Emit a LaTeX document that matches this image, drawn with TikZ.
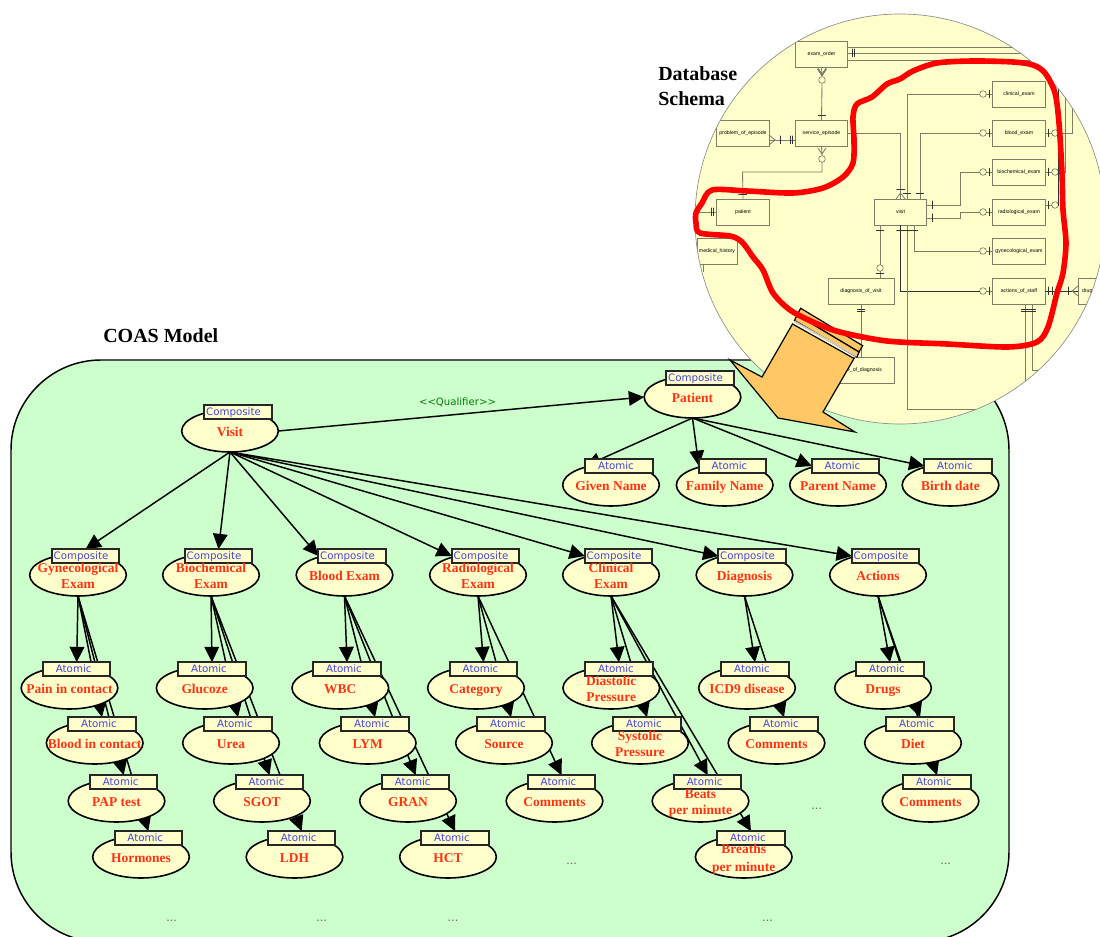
\documentclass[tikz,border=0pt]{standalone}
\usepackage{fontspec}
\setmainfont{Liberation Serif}
\newfontfamily\djv{DejaVu Sans}
\newfontfamily\lib{Liberation Sans}
\usetikzlibrary{shapes.geometric,arrows.meta}
\pgfdeclarelayer{bg}\pgfdeclarelayer{edges}\pgfdeclarelayer{front}
\pgfsetlayers{bg,edges,main,front}
\definecolor{panelgreen}{HTML}{CCFFCC}
\definecolor{lemon}{HTML}{FFFFCC}
\definecolor{arroworange}{HTML}{FFC864}
\definecolor{nametext}{HTML}{FF3311}
\definecolor{typetext}{HTML}{4444DD}
\definecolor{qualgreen}{HTML}{0A7A0A}
\definecolor{schline}{HTML}{7E7E66}
\tikzset{
  elli/.style={ellipse,draw=black,fill=lemon,line width=1.2pt,minimum width=72.5pt,minimum height=31.5pt,inner sep=0pt,outer sep=0pt},
  typebox/.style={rectangle,draw=black!85,fill=lemon,line width=1.4pt,minimum width=50.5pt,minimum height=10.2pt,inner sep=0pt,outer sep=0pt,text=typetext,text height=5.8pt,text depth=0pt,font=\djv\fontsize{7.7}{9}\selectfont},
  nametxt/.style={text=nametext,font=\bfseries\fontsize{10.1}{12}\selectfont,align=center,inner sep=0pt},
  edge/.style={draw=black,line width=1.1pt,-{Triangle[length=11.5pt,width=11pt]}},
  dotsmark/.style={text=black!60,anchor=base,inner sep=0pt,font=\lib\fontsize{9.5}{11}\selectfont},
  title/.style={text=black,font=\bfseries\fontsize{15}{18.4}\selectfont,align=left,inner sep=0pt},
  schbox/.style={rectangle,draw=schline,fill=lemon,line width=0.7pt,inner sep=0pt,outer sep=0pt,minimum height=19.5pt,minimum width=39.3pt,font=\lib\fontsize{3.9}{5}\selectfont},
  sch/.style={draw=schline,line width=0.65pt},
  schdark/.style={draw=black!80,line width=0.65pt},
  ring/.style={circle,draw=schline,fill=lemon,line width=0.5pt,minimum size=5pt,inner sep=0pt,outer sep=0pt},
}
\newcommand{\coasnode}[6]{%
  \node[elli] (#1) at (#2,#3) {};
  \node[typebox] (#1b) at (#4,{#3-19}) {#5};
  \node[nametxt] (#1t) at (#2,{#3+2.5}) {\rule{0pt}{7pt}#6\rule[-2.2pt]{0pt}{2.2pt}};
}
\newcommand{\cmp}{Composite\kern6.75pt\relax}
\newcommand{\atm}{Atomic\kern4.5pt\relax}
\newcommand{\vtick}[2]{\draw[schdark] (#1,{#2-4}) -- (#1,{#2+4});}
\newcommand{\htick}[2]{\draw[schdark] ({#1-4},#2) -- ({#1+4},#2);}
\begin{document}
\begin{tikzpicture}[x=0.75pt,y=-0.75pt]
\useasboundingbox (0,0) rectangle (1100,937);
\clip (0,0) rectangle (1100,937);

\begin{pgfonlayer}{bg}
  \draw[fill=panelgreen,draw=black,line width=1.1pt,rounded corners=67.5pt] (11,360) rectangle (1009,942);
\end{pgfonlayer}

% ---- model nodes
\coasnode{visit}{230}{431}{238}{\cmp}{Visit}
\coasnode{pat}{692.5}{397}{700}{\cmp}{Patient}
\coasnode{pat1}{611}{485}{619}{\atm}{Given Name}
\coasnode{pat2}{724.7}{485}{732.5}{\atm}{Family Name}
\coasnode{pat3}{838}{485}{845.5}{\atm}{Parent Name}
\coasnode{pat4}{950.5}{485}{958}{\atm}{Birth date}

\coasnode{gyn}{78}{575}{85.5}{\cmp}{Gynecological\\Exam}
\coasnode{bio}{211}{575}{218.5}{\cmp}{Biochemical\\Exam}
\coasnode{bld}{344.5}{575}{352}{\cmp}{Blood  Exam}
\coasnode{rad}{478}{575}{485.5}{\cmp}{Radiological\\Exam}
\coasnode{cln}{611}{575}{618.5}{\cmp}{Clinical\\Exam}
\coasnode{dgn}{744.5}{575}{752}{\cmp}{Diagnosis}
\coasnode{act}{878}{575}{885.5}{\cmp}{Actions}

\coasnode{gyn1}{69.5}{688}{76.7}{\atm}{Pain in contact}
\coasnode{gyn2}{94.7}{743}{102}{\atm}{Blood in contact}
\coasnode{gyn3}{116.5}{801}{123.7}{\atm}{PAP test}
\coasnode{gyn4}{141}{857}{148.3}{\atm}{Hormones}

\coasnode{bio1}{204.7}{688}{212}{\atm}{Glucoze}
\coasnode{bio2}{231}{743}{238}{\atm}{Urea}
\coasnode{bio3}{262}{801}{269.5}{\atm}{SGOT}
\coasnode{bio4}{294.5}{857}{301.7}{\atm}{LDH}

\coasnode{bld1}{340.3}{688}{347}{\atm}{WBC}
\coasnode{bld2}{367.7}{743}{375}{\atm}{LYM}
\coasnode{bld3}{408}{801}{415.7}{\atm}{GRAN}
\coasnode{bld4}{448}{857}{455}{\atm}{HCT}

\coasnode{rad1}{476}{688}{483.5}{\atm}{Category}
\coasnode{rad2}{504}{743}{511}{\atm}{Source}
\coasnode{rad3}{554.5}{801}{561.5}{\atm}{Comments}

\coasnode{cln1}{611.3}{688}{619}{\atm}{Diastolic\\Pressure}
\coasnode{cln2}{640}{743}{647}{\atm}{Systolic\\Pressure}
\coasnode{cln3}{700.5}{801}{707.7}{\atm}{Beats\\per minute}
\coasnode{cln4}{743.7}{857}{751}{\atm}{Breaths\\[1.5pt]per minute}

\coasnode{dgn1}{747}{688}{755}{\atm}{ICD9 disease}
\coasnode{dgn2}{776.5}{743}{784}{\atm}{Comments}

\coasnode{act1}{883}{688}{890}{\atm}{Drugs}
\coasnode{act2}{913}{743}{920}{\atm}{Diet}
\coasnode{act3}{930.5}{801}{937}{\atm}{Comments}

\node[dotsmark] (d1) at (171.7,921) {...};
\node[dotsmark] (d2) at (321.7,921) {...};
\node[dotsmark] (d3) at (453,921) {...};
\node[dotsmark] (d4) at (571.7,864) {...};
\node[dotsmark] (d5) at (816.7,809) {...};
\node[dotsmark] (d6) at (945.7,864) {...};
\node[dotsmark] (d7) at (767.7,921) {...};

\node[text=qualgreen,inner sep=0pt,font=\djv\fontsize{7.6}{9}\selectfont] (qual) at (457.5,402) {<{}<Qualifier>{}>};
\node[title,anchor=west] (coas) at (103,336) {COAS Model};

% ---- model connectors (behind the nodes)
\begin{pgfonlayer}{edges}
  \draw[edge] (visit.east) -- (pat.west);
  \draw[edge] (visit.south) -- (gynb.north);
  \draw[edge] (visit.south) -- (biob.north);
  \draw[edge] (visit.south) -- (bldb.west);
  \draw[edge] (visit.south) -- (radb.west);
  \draw[edge] (visit.south) -- (clnb.west);
  \draw[edge] (visit.south) -- (dgnb.west);
  \draw[edge] (visit.south) -- (actb.west);
  \draw[edge] (pat.south) -- (pat1b.west);
  \draw[edge] (pat.south) -- (pat2b.west);
  \draw[edge] (pat.south) -- (pat3b.west);
  \draw[edge] (pat.south) -- (pat4b.west);
  \foreach \p in {gyn,bio,bld,cln}
    \foreach \c in {1,2,3,4}
      \draw[edge] (\p.south) -- (\p\c b.north);
  \foreach \c in {1,2,3} {
    \draw[edge] (rad.south) -- (rad\c b.north);
    \draw[edge] (act.south) -- (act\c b.north);
  }
  \foreach \c in {1,2}
    \draw[edge] (dgn.south) -- (dgn\c b.north);
\end{pgfonlayer}

% ---- schema lens
\begin{pgfonlayer}{front}
  \fill[lemon] (900,219) circle[radius=153.75pt];
  \begin{scope}
    \clip (900,219) circle[radius=153.75pt];
    \node[schbox] (sExam) at (821.5,54) {exam\_order};
    \node[schbox] (sServ) at (821.5,133) {service\_episode};
    \node[schbox] (sProb) at (743,133) {problem\_of\_episode};
    \node[schbox] (sPat) at (743,212) {patient};
    \node[schbox] (sVisit) at (900.5,212) {visit};
    \node[schbox] (sClin) at (1019,94) {clinical\_exam};
    \node[schbox] (sBlood) at (1019,133) {blood\_exam};
    \node[schbox] (sBio) at (1019,172) {biochemical\_exam};
    \node[schbox] (sRad) at (1019,212) {radiological\_exam};
    \node[schbox] (sGyn) at (1019,251) {gynecological\_exam};
    \node[schbox] (sAct) at (1019,291) {actions\_of\_staff};
    \node[schbox,minimum width=49.5pt] (sDiag) at (861,291) {diagnosis\_of\_visit};
    \node[schbox,minimum width=49.5pt] (sType) at (861,370) {type\_of\_diagnosis};
    \node[schbox,minimum width=30pt] (sMed) at (717,251) {medical\_history};
    \node[schbox,minimum width=14pt] (sDrug) at (1087.3,291) {drug};

    \node[ring] (r1) at (983,94) {};
    \node[ring] (r2) at (983,133) {};
    \node[ring] (r3) at (983,172) {};
    \node[ring] (r4) at (983,212) {};
    \node[ring] (r5) at (983,251) {};
    \node[ring] (r6) at (983,291) {};
    \node[ring] (r7) at (822,80) {};
    \node[ring] (r8) at (822,159) {};
    \node[ring] (r9) at (880,268) {};
    \node[ring] (r10) at (1055,133) {};
    \node[ring] (r11) at (1055,172) {};
    \node[ring] (r12) at (1055,205) {};

    \draw[sch] (sExam.south) -- (r7.north);
    \draw[sch] (r7.south) -- (sServ.north);
    \draw[sch] (sServ.south) -- (r8.north);
    \draw[sch] (r8.south) |- (742.5,172) -- (sPat.north);
    \draw[sch] (sServ.east) -| (900.5,199);
    \draw[sch] (sProb.east |- 0,140) -- (sServ.west |- 0,140);
    \draw[sch] (907,0 |- sVisit.north) |- (r1.west);
    \draw[sch] (920,0 |- sVisit.north) |- (r2.west);
    \draw[sch] (927,205) -- (960,205) |- (r3.west);
    \draw[sch] (927,218) -- (960,218) |- (r4.west);
    \draw[sch] (914,0 |- sVisit.south) |- (r5.west);
    \draw[schdark] (900.5,0 |- sVisit.south) |- (r6.west);
    \draw[sch] (907,0 |- sVisit.south) |- (990,409);
    \draw[sch] (880,0 |- sVisit.south) -- (r9.north);
    \draw[sch] (r9.south) -- (880,0 |- sDiag.north);
    \draw[sch] (861,0 |- sDiag.south) -- (861,0 |- sType.north);
    \foreach \r/\b in {r1/sClin,r2/sBlood,r3/sBio,r4/sRad,r5/sGyn,r6/sAct}
      \draw[sch] (\r.east) -- (\b.west);
    \draw[sch] (sPat.west) -- (690,212);
    \draw[sch] (sExam.east |- 0,47) -- (1100,47);
    \draw[sch] (sExam.east |- 0,53) -- (1100,53);
    \draw[sch] (sExam.east |- 0,60) -- (1100,60);
    \draw[sch] (sBlood.east) -- (r10.west);
    \draw[sch] (sBio.east) -- (r11.west);
    \draw[sch] (r10.east) -- (1072,133) -- (1072,60);
    \draw[sch] (r11.east) -- (1065,172) -- (1065,60);
    \draw[schdark] (r12.east) -- (1058,205) -- (1058,84);
    \draw[sch] (sRad.east |- r12.west) -- (r12.west);
    \draw[schdark] (sAct.east) -- (sDrug.west);
    \draw[sch] (1025,0 |- sAct.south) -- (1025,390);
    \draw[sch] (1032,0 |- sAct.south) |- (1060,370);
    \draw[sch] (703,264) -- (703,272);
    \foreach \p in {989} \foreach \q in {94,133,172,212,251,291} \vtick{\p}{\q}
    \foreach \q in {133,172,205} \vtick{1048}{\q}
    \vtick{1048}{291}\vtick{1052}{291}\vtick{1068}{291}
    \vtick{711}{212}\vtick{713}{212}
    \vtick{780}{140}\vtick{790}{140}\vtick{792}{140}
    \vtick{852}{53}\vtick{854}{53}
    \vtick{932}{205}\vtick{932}{218}
    \htick{822}{115}\htick{742.5}{194}\htick{900.5}{189}\htick{907}{193}\htick{920}{193}
    \htick{880}{230}\htick{900.5}{230}\htick{907}{230}\htick{914}{230}
    \htick{880}{273}\htick{861}{309}\htick{861}{311}
    \htick{1025}{309}\htick{1025}{311}\htick{1032}{309}\htick{1032}{311}
    \draw[sch] (818,69) -- (822,75) -- (826,69);
    \draw[sch] (818,148) -- (822,154) -- (826,148);
    \draw[sch] (769,135) -- (775,140) -- (769,145);
    \draw[sch] (1078,286) -- (1072,291) -- (1078,296);
    \draw[sch] (896,199) -- (900.5,193) -- (905,199);
  \end{scope}
  \draw[draw=black!45,line width=0.5pt] (900,219) circle[radius=153.75pt];

  % orange arrow
  \draw[fill=arroworange,draw=black,line width=0.9pt,line join=miter] (800.7,308.3) -- (862.7,345.7) -- (859,352) -- (797,315) -- cycle;
  \draw[fill=arroworange,draw=black,line width=0.9pt] (797,315) -- (859,352) -- (857,357) -- (794.5,320.5) -- cycle;
  \draw[fill=arroworange,draw=black,line width=0.9pt,line join=miter] (792.5,324) -- (854,358.5) -- (823,412) -- (855,432) -- (778,418) -- (730,360) -- (762,377) -- cycle;
  \draw[draw=black!20,line width=1.3pt] (794.5,321.5) -- (856.5,356);

  % red outline
  \draw[draw=red,line width=4.2pt,line join=round] plot[smooth cycle,tension=0.5] coordinates {
    (1045,73) (1033,65) (1013,62) (973,61) (937,63) (913,71) (900,79) (887,84) (872,97)
    (857,104) (853,117) (854,140) (853,163) (843,177) (823,188) (793,193) (747,191) (712,190)
    (702,203) (696,213) (696,223) (700,233) (730,236) (742,242) (753,257) (763,270) (773,293)
    (790,310) (813,322) (840,332) (887,341) (947,344) (1008,347) (1037,342) (1048,327)
    (1057,293) (1063,273) (1066,243) (1063,210) (1062,173) (1059,123) (1055,93)};
  \node[title,anchor=west] (schemaTitle) at (658,86) {Database\\Schema};
\end{pgfonlayer}
\end{tikzpicture}
\end{document}
